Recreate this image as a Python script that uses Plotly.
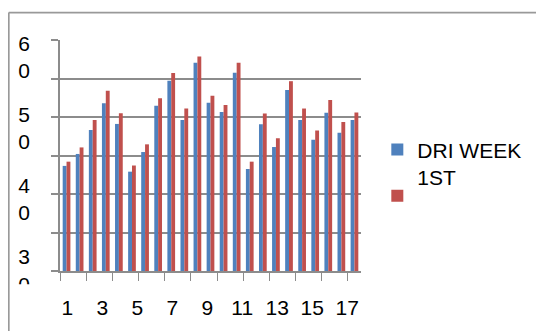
import plotly.graph_objects as go

# ---- data ----
groups = [str(i) for i in range(1, 24)]
dri_week_1st = [27.3, 30.4, 36.6, 43.6, 38.2, 25.8, 30.9, 42.9, 49.4, 39.2, 54.1, 43.7,
                41.3, 51.5, 26.5, 38.1, 32.2, 47.0, 39.2, 34.1, 41.1, 35.9, 39.2]
series2 = [28.4, 32.1, 39.2, 46.8, 41.0, 27.4, 32.9, 44.9, 51.4, 42.2, 55.7, 45.5,
           43.1, 54.1, 28.4, 40.9, 34.5, 49.3, 42.2, 36.5, 44.4, 38.7, 41.2]
series_names = ["DRI WEEK<br>1ST", ""]
x_tick_labels = ["1", "3", "5", "7", "9", "11", "13", "15", "17"]
y_tick_values = [60, 50, 40, 30]
y_tick_labels = ["6<br>0", "5<br>0", "4<br>0", "3<br>0"]

BLUE = "#4F81BD"
RED = "#C0504D"
GRID = "#8C8C8C"
FONT = "Liberation Sans"

OFF = 8                      # page offset of the plot div (body margin)
L, T = 60 - OFF, 40 - OFF    # plot-area origin in figure pixels
PW, PH = 300.7, 231.3
def px(x_page):
    return (x_page - OFF - L) / PW
def py(y_page):
    return (T + PH - (y_page - OFF)) / PH

fig = go.Figure()
fig.add_trace(go.Bar(x=groups, y=dri_week_1st, name=series_names[0],
                     marker=dict(color=BLUE, line=dict(width=0)), legend="legend"))
fig.add_trace(go.Bar(x=groups, y=series2, name=series_names[1],
                     marker=dict(color=RED, line=dict(width=0)), legend="legend2"))
# invisible helper trace to carry the second (label) axes
fig.add_trace(go.Scatter(x=[1], y=[45], xaxis="x2", yaxis="y2", mode="markers",
                         marker=dict(opacity=0), showlegend=False, hoverinfo="skip"))

fig.update_layout(
    width=544, height=331,
    margin=dict(l=L, r=544 - L - PW, t=T, b=331 - T - PH, autoexpand=False),
    paper_bgcolor="white", plot_bgcolor="white",
    font=dict(family=FONT, size=21, color="black"),
    barmode="group", bargap=0.41, bargroupgap=0,
    xaxis=dict(type="category", tickson="boundaries", ticks="outside", ticklen=8,
               tickcolor=GRID, tickwidth=1.3, showticklabels=False, automargin=False,
               showline=True, linecolor=GRID, linewidth=1.5, showgrid=False),
    yaxis=dict(range=[0, 60], dtick=10, showgrid=True, gridcolor=GRID, gridwidth=1.5,
               ticks="outside", ticklen=7, tickcolor=GRID, tickwidth=1.5, automargin=False,
               showticklabels=False, showline=True, linecolor=GRID, linewidth=1.5,
               zeroline=False),
    xaxis2=dict(overlaying="x", side="bottom", range=[0.58, 17.79], automargin=False,
                tickvals=[int(t) for t in x_tick_labels], ticktext=x_tick_labels,
                showgrid=False, showline=False, zeroline=False, ticks="",
                ticklabelstandoff=22, tickfont=dict(size=21, color="black")),
    yaxis2=dict(overlaying="y", side="left", range=[29.96, 62.38], automargin=False,
                tickvals=y_tick_values, ticktext=y_tick_labels,
                showgrid=False, showline=False, zeroline=False, ticks="",
                ticklabelstandoff=29, tickfont=dict(size=21, color="black")),
    legend=dict(x=px(377), y=py(129.5), xanchor="left", yanchor="top",
                valign="top", bgcolor="rgba(0,0,0,0)", font=dict(size=21, color="black")),
    legend2=dict(x=px(377), y=py(175.7), xanchor="left", yanchor="top",
                 bgcolor="rgba(0,0,0,0)", font=dict(size=21, color="black")),
    shapes=[
        # outer chart border (runs off the right/bottom edge of the picture)
        dict(type="line", xref="paper", yref="paper",
             x0=px(8.8), x1=px(551), y0=py(12.5), y1=py(12.5),
             line=dict(color="#999999", width=1.8), layer="above"),
        dict(type="line", xref="paper", yref="paper",
             x0=px(8.8), x1=px(8.8), y0=py(12.5), y1=py(338),
             line=dict(color="#999999", width=1.8), layer="above"),
        # clipping strip for the lowest wrapped y label
        dict(type="rect", xref="paper", yref="paper",
             x0=px(12), x1=px(52), y0=py(296), y1=py(284.5),
             line=dict(width=0), fillcolor="white", layer="above"),
    ],
)

fig.write_html("out.html")
